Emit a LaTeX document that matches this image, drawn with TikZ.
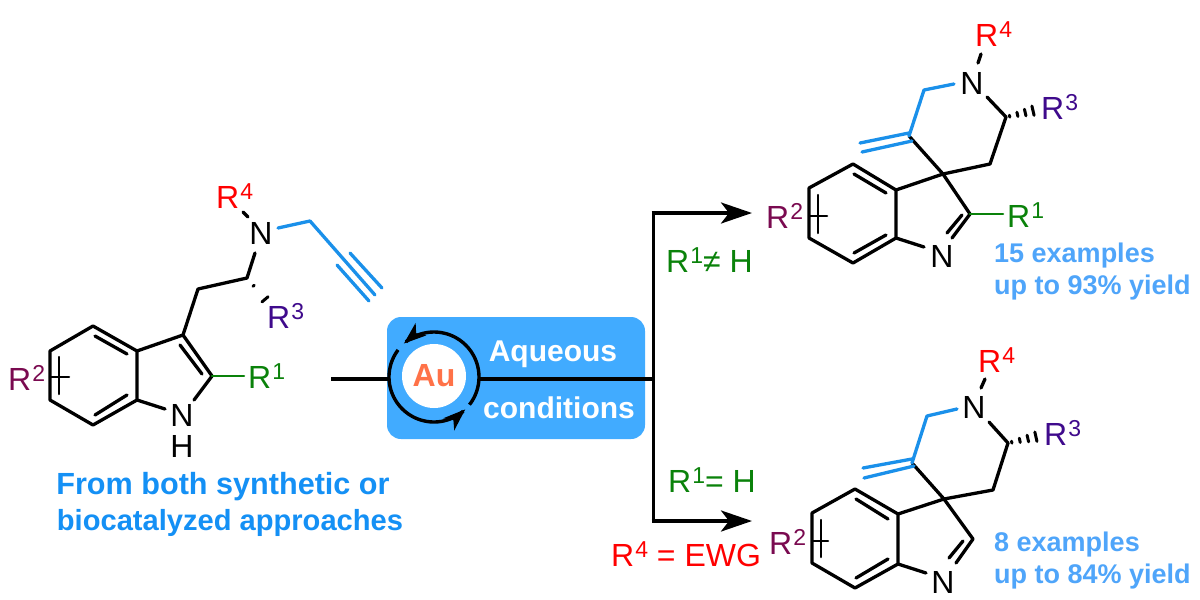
\documentclass[tikz,border=0pt]{standalone}
\usepackage{fontspec}
\setmainfont{Liberation Sans}
\usetikzlibrary{arrows.meta,calc}
\definecolor{colR1}{HTML}{0A820A}
\definecolor{colR2}{HTML}{7A0A50}
\definecolor{colR3}{HTML}{3F0A8C}
\definecolor{colR4}{HTML}{FF0000}
\definecolor{bondblue}{HTML}{1A90EA}
\definecolor{boxblue}{HTML}{41ABFF}
\definecolor{titleblue}{HTML}{1490F5}
\definecolor{yieldblue}{HTML}{4FA5FA}
\definecolor{auorange}{HTML}{FF7248}
\newcommand{\bigf}{\fontsize{32}{36}\selectfont}
\newcommand{\boldf}{\fontsize{30}{34}\selectfont\bfseries}
\newcommand{\yieldf}{\fontsize{27}{32}\selectfont\bfseries}
\newcommand{\supr}[1]{\raisebox{9pt}{\fontsize{23}{23}\selectfont #1}}
\newcommand{\Rlab}[1]{R\kern1pt\supr{#1}}
\newcommand{\hashbond}[3]{%
  \foreach \t/\w in {#3}{
    \draw[bond,line width=3pt] ($(#1)!\t!(#2)!\w pt!90:(#2)$) -- ($(#1)!\t!(#2)!\w pt!-90:(#2)$);
  }}
\tikzset{
  bond/.style={draw=black,line width=3.3pt,line cap=round,line join=round},
  thinbond/.style={bond,line width=2.5pt},
  bbond/.style={draw=bondblue,line width=3.3pt,line cap=round,line join=round},
  atomlab/.style={font=\bigf,text=black,inner sep=0pt},
  rlab/.style={font=\bigf,inner sep=0pt,anchor=base west},
  reagent/.style={font=\boldf,text=white,inner sep=0pt},
  title/.style={text=titleblue,inner sep=0pt},
  yieldlab/.style={font=\yieldf,text=yieldblue,inner sep=0pt,anchor=base west},
  condition/.style={font=\bigf,inner sep=0pt,anchor=base west},
  flow/.style={draw=black,line width=3.6pt},
  flowarrow/.style={flow,-{Stealth[length=31pt,width=21pt,inset=8pt]}},
  cyc/.style={draw=black,line width=3.4pt,-{Stealth[length=22pt,width=16pt,inset=6pt]}},
}
\begin{document}
\begin{tikzpicture}[x=1pt,y=-1pt]
\useasboundingbox (0,0) rectangle (1200,600);
\fill[white] (0,0) rectangle (1200,600);

%% ---- left substrate
\draw[bond] (93,326) -- (50,351) -- (50,400) -- (93,425) -- (137,400) -- (137,351) -- cycle;
\draw[bond] (95,336) -- (127,354) (95,415) -- (127,395);
\draw[bond] (137,351) -- (183,335) -- (212,376) -- (194,400);
\draw[bond] (180,345) -- (202,374);
\draw[bond] (137,400) -- (165,409);
\draw[bond] (183,335) -- (198,289) -- (247,278) -- (255,253);
\draw[bond] (243,212) -- (248,217);
\draw[bbond] (278,228) -- (310,221) -- (375,295);
\draw[bbond] (337,265) -- (369,301) (350,253) -- (382,288);
\draw[thinbond,draw=colR1] (212,376) -- (244,376);
\draw[thinbond] (50,377) -- (69,377) (59,357) -- (59,394);
\coordinate (s3a) at (247,278); \coordinate (s3b) at (269,304);
\hashbond{s3a}{s3b}{0.3/0.8,0.82/4}
\node[atomlab] (sN) at (261,233) {N};
\node[atomlab] (sNH) at (182,415) {N};
\node[atomlab] (sH) at (182,446) {H};
\node[rlab,text=colR4] (sR4) at (216,208) {\Rlab{4}};
\node[rlab,text=colR3] (sR3) at (267,328) {\Rlab{3}};
\node[rlab,text=colR1] (sR1) at (248,388) {\Rlab{1}};
\node[rlab,text=colR2] (sR2) at (8,390) {\Rlab{2}};
\node[title,font=\fontsize{30.6}{34}\selectfont\bfseries] (t1) at (223,487) {From both synthetic or};
\node[title,font=\fontsize{29.1}{34}\selectfont\bfseries] (t2) at (230,523) {biocatalyzed approaches};

%% ---- catalyst box
\node[draw=none,fill=boxblue,rounded corners=14pt,minimum width=258pt,minimum height=122pt,inner sep=0pt] (box) at (516,378) {};
\node[reagent] (aq) at (553,354) {Aqueous};
\node[reagent] (cond) at (559,408) {conditions};
\node[circle,fill=white,minimum size=64pt,inner sep=0pt,font=\fontsize{32}{32}\selectfont\bfseries,text=auorange] (au) at (434,376) {Au};
\coordinate (start) at (331,379);
\coordinate (ringW) at (389,379);
\coordinate (ringE) at (479,379);
\coordinate (branch) at (653.5,379);
\coordinate (vtop) at (653.5,213);
\coordinate (vbot) at (653.5,521);
\coordinate (tipT) at (752,213);
\coordinate (tipB) at (752,521);
\draw[flow] (start) -- (ringW);
\draw[flow] (ringE) -- (branch);
\draw[flow] (vtop) -- (vbot);
\draw[flowarrow] ([xshift=-1.8pt]vtop) -- (tipT);
\draw[flowarrow] ([xshift=-1.8pt]vbot) -- (tipB);
\draw[cyc] plot[domain=-38:132,samples=50,variable=\a] ({434+45*cos(\a)},{377-45*sin(\a)});
\draw[cyc] plot[domain=143:314,samples=50,variable=\a] ({434+45*cos(\a)},{377-45*sin(\a)});

%% ---- conditions
\node[condition,text=colR1] (c1) at (666,272) {\Rlab{1}≠ H};
\node[condition,text=colR1] (c2) at (668,492) {\Rlab{1}= H};
\node[condition,text=colR4] (c3) at (611,566) {\Rlab{4} = EWG};

%% ---- top product
\draw[bond] (853,164) -- (809,188) -- (809,238) -- (853,263) -- (896,238) -- (896,190) -- cycle;
\draw[bond] (854,174) -- (886,193) (854,253) -- (886,235);
\draw[bond] (896,190) -- (943,174) -- (970,214) -- (952,238);
\draw[bond] (962,215) -- (947,233);
\draw[bond] (896,238) -- (924,247);
\draw[bond] (909,136) -- (943,174) -- (990,164) -- (1006,117) -- (987,97);
\draw[bond] (981,54) -- (978,63);
\draw[bbond] (954,84) -- (924,90) -- (909,136);
\draw[bbond] (909,133) -- (860,143) (912,141) -- (862,152);
\draw[thinbond,draw=colR1] (970,214) -- (1003,214);
\draw[thinbond] (810,216) -- (827,216) (818,195) -- (818,233);
\coordinate (p3a) at (1006,117); \coordinate (p3b) at (1036,110);
\hashbond{p3a}{p3b}{0.12/1,0.38/2.2,0.64/3.4,0.9/4.8}
\node[atomlab] (pN) at (972,83) {N};
\node[atomlab] (pNi) at (942,256) {N};
\node[rlab,text=colR4] (pR4) at (975,46) {\Rlab{4}};
\node[rlab,text=colR3] (pR3) at (1041,119) {\Rlab{3}};
\node[rlab,text=colR1] (pR1) at (1007,227) {\Rlab{1}};
\node[rlab,text=colR2] (pR2) at (766,228) {\Rlab{2}};
\node[yieldlab] (y1) at (994,262) {15 examples};
\node[yieldlab] (y2) at (994,294) {up to 93\% yield};

%% ---- bottom product
\draw[bond] (855,489) -- (812,513) -- (812,563) -- (855,588) -- (898,564) -- (898,514) -- cycle;
\draw[bond] (856,499) -- (888,519) (856,578) -- (888,559);
\draw[bond] (898,514) -- (944,499) -- (973,539) -- (956,563);
\draw[bond] (963,541) -- (949,558);
\draw[bond] (898,564) -- (926,573);
\draw[bond] (912,463) -- (944,499) -- (993,490) -- (1008,443) -- (989,422);
\draw[bond] (985,379) -- (981,388);
\draw[bbond] (957,409) -- (927,416) -- (912,463);
\draw[bbond] (912,459) -- (863,468) (914,466) -- (864,478);
\draw[thinbond] (812,541) -- (828,541) (821,520) -- (821,557);
\coordinate (q3a) at (1008,443); \coordinate (q3b) at (1039,436);
\hashbond{q3a}{q3b}{0.12/1,0.38/2.2,0.64/3.4,0.9/4.8}
\node[atomlab] (qN) at (974,407) {N};
\node[atomlab] (qNi) at (943,582) {N};
\node[rlab,text=colR4] (qR4) at (978,372) {\Rlab{4}};
\node[rlab,text=colR3] (qR3) at (1044,445) {\Rlab{3}};
\node[rlab,text=colR2] (qR2) at (769,554) {\Rlab{2}};
\node[yieldlab] (y3) at (994,551) {8 examples};
\node[yieldlab] (y4) at (994,583) {up to 84\% yield};
\end{tikzpicture}
\end{document}
